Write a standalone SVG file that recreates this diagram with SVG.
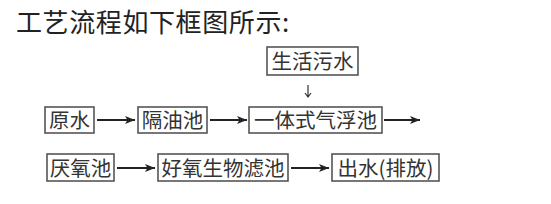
<svg xmlns="http://www.w3.org/2000/svg" width="551" height="204" viewBox="0 0 551 204">
<defs>
<style>
.box{fill:#fff;stroke:#555;stroke-width:1.6}
.t{font-family:"Noto Sans CJK SC","Noto Sans CJK JP",sans-serif;font-size:20.5px;fill:#333;text-anchor:middle}
.title{font-family:"Noto Sans CJK SC","Noto Sans CJK JP",sans-serif;font-size:26px;fill:#222}
.c{stroke:#222;stroke-width:2;fill:none}
.thin{stroke:#333;stroke-width:1.2;fill:none}
</style>
<marker id="ah" viewBox="0 0 10 8" refX="10" refY="4" markerWidth="10" markerHeight="8" markerUnits="userSpaceOnUse" orient="auto">
<path d="M0,0 L10,4 L0,8 L2.5,4 Z" fill="#222"/>
</marker>
</defs>
<rect width="551" height="204" fill="#fff"/>
<text class="title" x="16" y="32" letter-spacing="0.6">工艺流程如下框图所示:</text>

<g id="n-yuanshui"><rect class="box" x="45" y="107" width="49" height="26"/><text class="t" x="69.5" y="127.5">原水</text></g>
<g id="n-geyouchi"><rect class="box" x="138" y="107" width="69" height="26"/><text class="t" x="172.5" y="127.5">隔油池</text></g>
<g id="n-qifuchi"><rect class="box" x="249" y="107" width="133" height="26"/><text class="t" x="315.5" y="127.5">一体式气浮池</text></g>
<g id="n-shenghuo"><rect class="box" x="267" y="47" width="91" height="28"/><text class="t" x="312.5" y="68.5">生活污水</text></g>
<g id="n-yanyang"><rect class="box" x="47" y="154" width="67" height="27"/><text class="t" x="80.5" y="175.5">厌氧池</text></g>
<g id="n-haoyang"><rect class="box" x="158" y="154" width="130" height="27"/><text class="t" x="223" y="175.5">好氧生物滤池</text></g>
<g id="n-chushui"><rect class="box" x="332" y="154" width="107" height="27"/><text class="t" x="385.5" y="175.5">出水(排放)</text></g>

<g id="connectors">
<line class="c" x1="97" y1="120" x2="135" y2="120" marker-end="url(#ah)"/>
<line class="c" x1="210" y1="120" x2="247" y2="120" marker-end="url(#ah)"/>
<line class="c" x1="384" y1="120" x2="420" y2="120" marker-end="url(#ah)"/>
<line class="c" x1="117" y1="168" x2="155" y2="168" marker-end="url(#ah)"/>
<line class="c" x1="291" y1="168" x2="329" y2="168" marker-end="url(#ah)"/>
<path class="thin" d="M308,85 L308,97 M305,93 L308,97 L311,93"/>
</g>
</svg>
